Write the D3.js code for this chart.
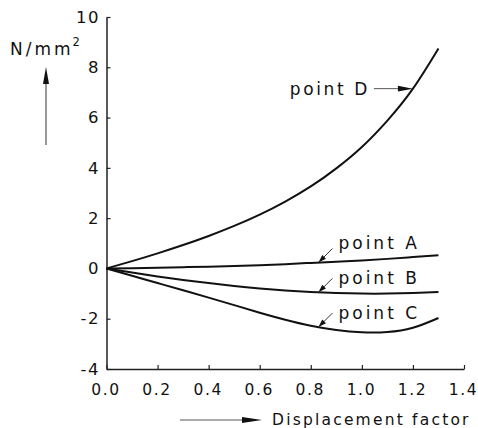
<!DOCTYPE html>
<html>
<head>
<meta charset="utf-8">
<script src="https://cdn.jsdelivr.net/npm/d3@7"></script>
<style>
  body { margin: 0; background: #fff; }
  svg text { font-family: "DejaVu Sans", sans-serif; fill: #111; }
</style>
</head>
<body>
<svg id="chart" width="478" height="428"></svg>
<script>
// displacement factor samples
const displacement = [0, 0.1, 0.2, 0.3, 0.4, 0.5, 0.6, 0.7, 0.8, 0.9, 1.0, 1.1, 1.2, 1.3];

// stress (N/mm2)
const pointA = [0, 0.01, 0.03, 0.05, 0.07, 0.1, 0.13, 0.17, 0.22, 0.27, 0.32, 0.38, 0.45, 0.52];
const pointB = [0, -0.16, -0.32, -0.46, -0.58, -0.7, -0.8, -0.88, -0.94, -0.98, -1.0, -1.0, -0.98, -0.94];
const pointC = [0, -0.29, -0.58, -0.87, -1.16, -1.46, -1.76, -2.04, -2.28, -2.45, -2.54, -2.53, -2.36, -1.97];
const pointD = [0, 0.29, 0.6, 0.93, 1.29, 1.69, 2.14, 2.66, 3.26, 3.98, 4.83, 5.88, 7.15, 8.75];

const xTicks = [0, 0.2, 0.4, 0.6, 0.8, 1.0, 1.2, 1.4];
const yTicks = [-4, -2, 0, 2, 4, 6, 8, 10];

const seriesNames = ["point A", "point B", "point C", "point D"];
const seriesValues = [pointA, pointB, pointC, pointD];
// where each label arrow touches its curve
const labelAt = [0.83, 0.83, 0.83, 1.2];

const svg = d3.select("#chart");

const x = d3.scaleLinear().domain([0, 1.4]).range([106.5, 464]);
const y = d3.scaleLinear().domain([-4, 10]).range([369, 17]);

// axes
const yAxis = svg.append("g")
    .attr("transform", `translate(${x(0)},0)`)
    .call(d3.axisLeft(y).tickValues(yTicks).tickSize(-4).tickSizeOuter(0).tickPadding(8).tickFormat(d => String(d)));

const xAxis = svg.append("g")
    .attr("transform", `translate(0,${y(-4)})`)
    .call(d3.axisBottom(x).tickValues(xTicks).tickSize(-4).tickSizeOuter(0).tickPadding(15).tickFormat(d3.format(".1f")));

[yAxis, xAxis].forEach(g => {
    g.select(".domain").attr("stroke", "#222").attr("stroke-width", 1.5);
    g.selectAll(".tick line").attr("stroke", "#222").attr("stroke-width", 1.2);
    g.selectAll(".tick text")
        .attr("font-family", null)
        .attr("fill", "#111");
});
yAxis.selectAll(".tick text").attr("font-size", 16.5).attr("letter-spacing", 1.5).attr("dx", 1.5);
xAxis.selectAll(".tick text").attr("font-size", 15.5).attr("letter-spacing", 1.6).attr("dx", -1);

// curves
const line = d3.line()
    .x(d => x(d[0]))
    .y(d => y(d[1]))
    .curve(d3.curveNatural);

svg.append("g").selectAll("path.curve")
    .data(seriesValues)
    .join("path")
    .attr("class", "curve")
    .attr("d", vals => line(displacement.map((v, i) => [v, vals[i]])))
    .attr("fill", "none")
    .attr("stroke", "#111")
    .attr("stroke-width", 2);

// arrowhead helper: tip at (tx,ty), pointing along angle
function arrowHead(g, tx, ty, angle, len, half) {
    const c = Math.cos(angle), s = Math.sin(angle);
    const bx = tx - c * len, by = ty - s * len;
    g.append("path")
        .attr("d", `M${tx},${ty}L${bx - s * half},${by + c * half}L${bx + s * half},${by - c * half}Z`)
        .attr("fill", "#111");
}

// labels with arrows
const ann = svg.append("g");
seriesNames.forEach((name, i) => {
    const interp = d3.scaleLinear().domain(displacement).range(seriesValues[i]);
    const tx = x(labelAt[i]), ty = y(interp(labelAt[i]));
    if (name === "point D") {
        ann.append("line")
            .attr("x1", tx - 39).attr("y1", ty).attr("x2", tx - 6).attr("y2", ty)
            .attr("stroke", "#555").attr("stroke-width", 1);
        arrowHead(ann, tx, ty, 0, 15, 2.8);
        ann.append("text")
            .attr("x", tx - 43).attr("y", ty + 6)
            .attr("text-anchor", "end")
            .attr("font-size", 17)
            .attr("letter-spacing", 2.6)
            .text(name);
    } else {
        ann.append("line")
            .attr("x1", tx + 14).attr("y1", ty - 14).attr("x2", tx + 4).attr("y2", ty - 4)
            .attr("stroke", "#333").attr("stroke-width", 1);
        arrowHead(ann, tx, ty, Math.PI * 0.75, 8, 2.6);
        const dy = name === "point A" ? -14 : -8;
        ann.append("text")
            .attr("x", tx + 20).attr("y", ty + dy)
            .attr("font-size", 17)
            .attr("letter-spacing", 3)
            .text(name);
    }
});

// y axis title + arrow
const yt = svg.append("text")
    .attr("x", 10).attr("y", 55)
    .attr("font-size", 17)
    .attr("letter-spacing", 3);
yt.append("tspan").text("N/mm");
yt.append("tspan").attr("font-size", 11.5).attr("dy", -9).attr("dx", -1).attr("letter-spacing", 0).text("2");

svg.append("line")
    .attr("x1", 46).attr("y1", 145).attr("x2", 46).attr("y2", 80)
    .attr("stroke", "#333").attr("stroke-width", 1);
arrowHead(svg, 46, 67, -Math.PI / 2, 17, 3);

// x axis title + arrow
svg.append("line")
    .attr("x1", 180).attr("y1", 420).attr("x2", 248).attr("y2", 420)
    .attr("stroke", "#555").attr("stroke-width", 1);
arrowHead(svg, 262, 420, 0, 20, 3);
svg.append("text")
    .attr("x", 272).attr("y", 425)
    .attr("font-size", 15.5)
    .attr("letter-spacing", 2.2)
    .text("Displacement factor");
</script>
</body>
</html>
